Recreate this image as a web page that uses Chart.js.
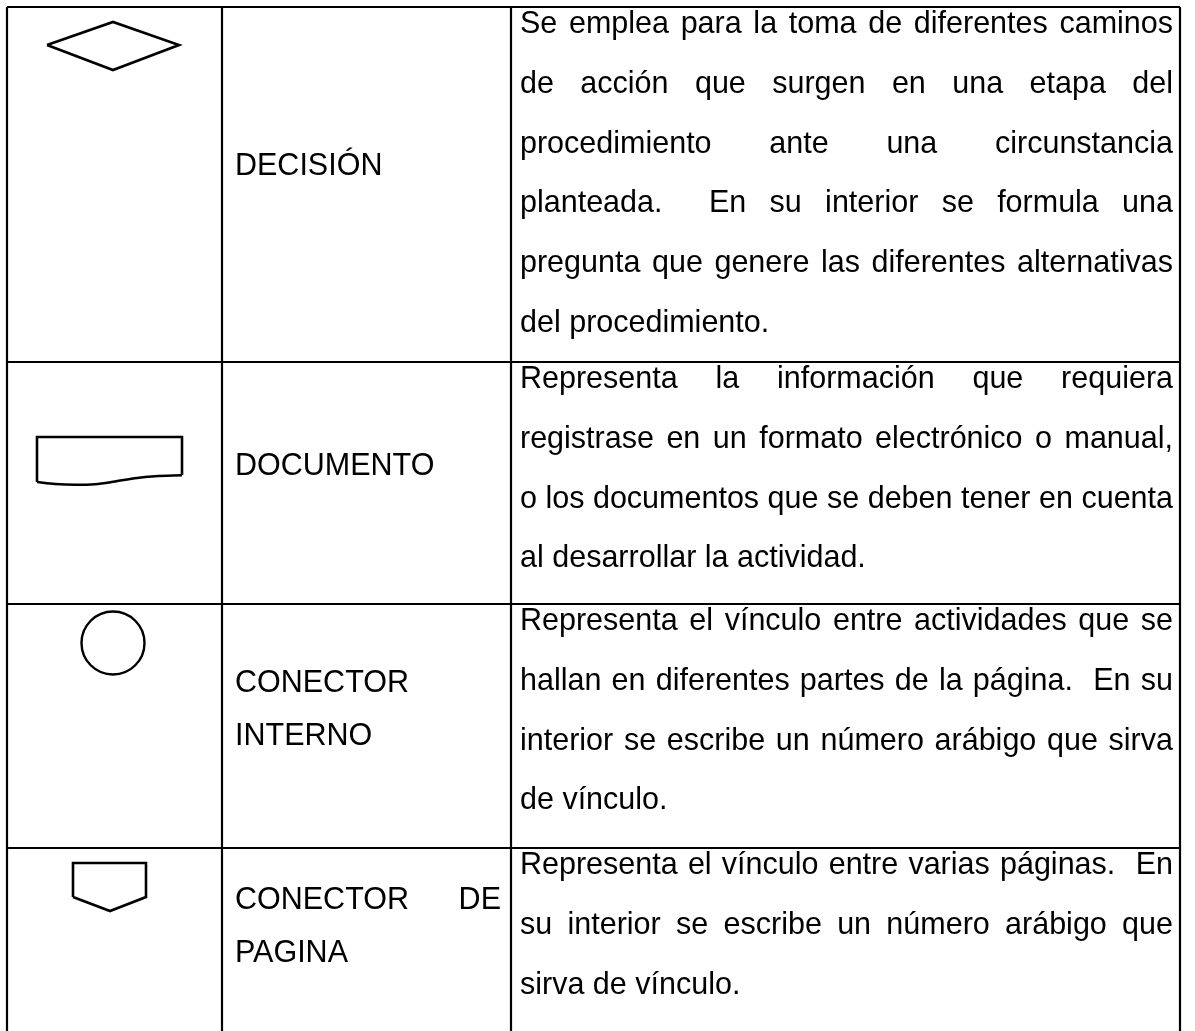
<!DOCTYPE html>
<html>
<head>
<meta charset="utf-8">
<script src="https://cdn.jsdelivr.net/npm/chart.js@4"></script>
<style>
  html, body { margin: 0; padding: 0; background: #fff; }
  #wrap { position: relative; width: 1195px; height: 1031px; overflow: hidden; }
  #board { position: absolute; left: 0; top: 0; }
  .txt {
    position: absolute;
    font-family: "Liberation Sans", Arial, sans-serif;
    font-size: 30.5px;
    line-height: 30.5px;
    color: #000;
    white-space: nowrap;
  }
  .just { text-align: justify; text-align-last: justify; }
</style>
</head>
<body>
<div id="wrap">
  <canvas id="board" width="1195" height="1031"></canvas>
</div>
<script>
// simbologia.js - flowchart symbol table drawn on a linear x/y plane

// table grid (x = column edges, y = row edges)
const colEdges = [7, 222, 511, 1180];
const rowEdges = [7, 362, 604, 848, 1040];

// symbol names (column 2), one entry per row
const symbolNames = [
  ["DECISIÓN"],
  ["DOCUMENTO"],
  ["CONECTOR", "INTERNO"],
  ["CONECTOR DE", "PAGINA"]
];
const nameBaselines = [[175], [475], [692, 745], [909, 962]];

// descriptions (column 3), line by line as in the reference
const descLines = [
  [
    "Se emplea para la toma de diferentes caminos",
    "de acción que surgen en una etapa del",
    "procedimiento ante una circunstancia",
    "planteada.\u00a0 En su interior se formula una",
    "pregunta que genere las diferentes alternativas",
    "del procedimiento."
  ],
  [
    "Representa la información que requiera",
    "registrase en un formato electrónico o manual,",
    "o los documentos que se deben tener en cuenta",
    "al desarrollar la actividad."
  ],
  [
    "Representa el vínculo entre actividades que se",
    "hallan en diferentes partes de la página.\u00a0 En su",
    "interior se escribe un número arábigo que sirva",
    "de vínculo."
  ],
  [
    "Representa el vínculo entre varias páginas.\u00a0 En",
    "su interior se escribe un número arábigo que",
    "sirva de vínculo."
  ]
];

// symbol outlines (column 1)
const diamondPts = [
  { x: 47, y: 45 }, { x: 113, y: 22 }, { x: 179, y: 45 }, { x: 113, y: 70 }, { x: 47, y: 45 }
];
const documentBox = [
  { x: 37, y: 482 }, { x: 37, y: 437 }, { x: 182, y: 437 }, { x: 182, y: 475 }
];
const documentWave = [
  { x: 37, y: 482 }, { x: 55, y: 484 }, { x: 75, y: 484.8 }, { x: 95, y: 484.2 },
  { x: 115, y: 481.5 }, { x: 135, y: 478.3 }, { x: 155, y: 476.3 }, { x: 182, y: 475.3 }
];
const connectorCenter = [{ x: 113, y: 643 }];
const pageConnectorPts = [
  { x: 73, y: 897 }, { x: 73, y: 863 }, { x: 146, y: 863 }, { x: 146, y: 897 },
  { x: 110, y: 911 }, { x: 73, y: 897 }
];

const INK = "#000000";

function lineSet(data, width, extra) {
  return Object.assign({
    data,
    showLine: true,
    borderColor: INK,
    borderWidth: width,
    pointRadius: 0,
    fill: false,
    tension: 0
  }, extra || {});
}

const datasets = [];

// vertical table lines
colEdges.forEach(x => {
  datasets.push(lineSet([{ x, y: rowEdges[0] }, { x, y: rowEdges[rowEdges.length - 1] }], 2.2));
});
// horizontal table lines
rowEdges.forEach(y => {
  datasets.push(lineSet([{ x: colEdges[0], y }, { x: colEdges[colEdges.length - 1], y }], 2.2));
});

datasets.push(lineSet(diamondPts, 2.6, { borderJoinStyle: "miter" }));
datasets.push(lineSet(documentBox, 2.6, { borderJoinStyle: "miter" }));
datasets.push(lineSet(documentWave, 2.6, { cubicInterpolationMode: "monotone" }));
datasets.push({
  data: connectorCenter,
  showLine: false,
  pointStyle: "circle",
  pointRadius: 31.5,
  pointBorderWidth: 2.4,
  pointBorderColor: INK,
  pointBackgroundColor: "rgba(0,0,0,0)"
});
datasets.push(lineSet(pageConnectorPts, 2.6, { borderJoinStyle: "miter" }));

const chart = new Chart(document.getElementById("board"), {
  type: "scatter",
  data: { datasets },
  options: {
    responsive: false,
    animation: false,
    layout: { padding: 0, autoPadding: false },
    plugins: { legend: { display: false }, tooltip: { enabled: false } },
    events: [],
    scales: {
      x: { type: "linear", min: 0, max: 1195, display: false },
      y: { type: "linear", min: 0, max: 1031, reverse: true, display: false }
    }
  }
});

// text overlay, placed with the chart's own scales
const wrap = document.getElementById("wrap");
const FONT = 30.5;
const ASC = 0.8465 * FONT; // baseline offset inside a 1em line box

function addLine(text, xLeft, xRight, baseline, justify) {
  const d = document.createElement("div");
  d.className = "txt" + (justify ? " just" : "");
  const px = chart.scales.x.getPixelForValue(xLeft);
  const pw = chart.scales.x.getPixelForValue(xRight) - px;
  d.style.left = px + "px";
  d.style.width = pw + "px";
  d.style.top = (chart.scales.y.getPixelForValue(baseline) - ASC) + "px";
  d.textContent = text;
  wrap.appendChild(d);
}

symbolNames.forEach((lines, r) => {
  lines.forEach((t, i) => {
    addLine(t, colEdges[1] + 13, colEdges[2] - 10, nameBaselines[r][i], t.indexOf(" ") > 0);
  });
});

descLines.forEach((lines, r) => {
  lines.forEach((t, i) => {
    const last = i === lines.length - 1;
    addLine(t, colEdges[2] + 9, colEdges[3] - 7, rowEdges[r] + 26 + 59.7 * i, !last);
  });
});
</script>
</body>
</html>
